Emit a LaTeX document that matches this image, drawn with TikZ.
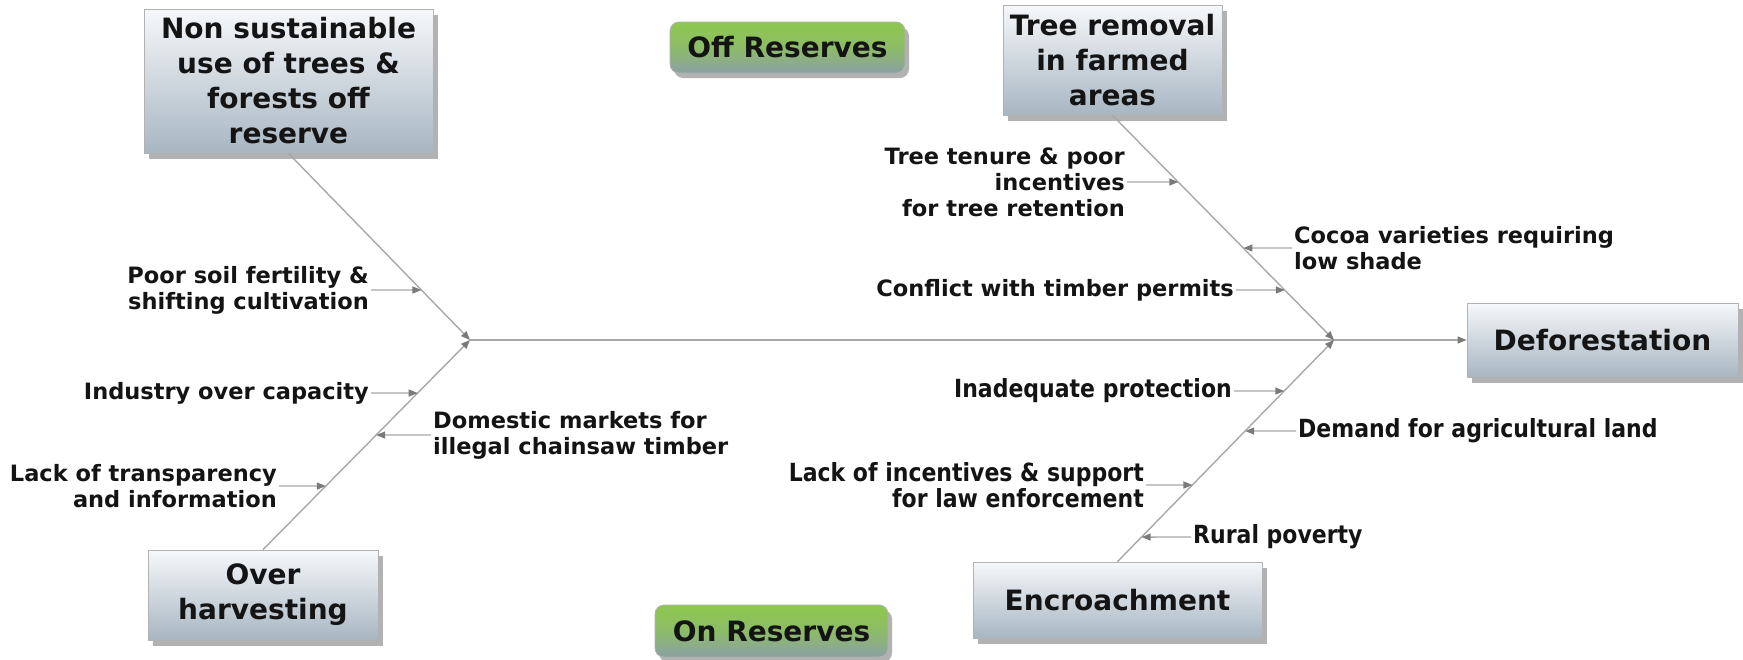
\documentclass[tikz,border=0pt]{standalone}
\usepackage{fontspec}
\setmainfont{DejaVu Sans}
\newfontfamily\cond{DejaVu Sans}[FakeStretch=0.88]
\usetikzlibrary{arrows.meta,shadows,calc}
\definecolor{boxtop}{HTML}{F6F8FA}
\definecolor{boxbot}{HTML}{A8B6C2}
\definecolor{grtop}{HTML}{8DC84E}
\definecolor{grbot}{HTML}{8BA0A4}
\definecolor{bonec}{HTML}{A8A8A8}
\definecolor{tipc}{HTML}{7A7A7A}
\definecolor{txt}{HTML}{141414}
\tikzset{
 causebox/.style={draw=gray!60, line width=0.8pt, top color=boxtop, bottom color=boxbot,
   drop shadow={shadow xshift=5pt, shadow yshift=-6pt, opacity=0.3, fill=black},
   align=center, text=txt, font=\bfseries\fontsize{28}{35}\selectfont, inner sep=0pt},
 groupbox/.style={draw=gray!60, line width=0.8pt, rounded corners=9pt, top color=grtop, bottom color=grbot,
   middle color=grtop!70!grbot,
   drop shadow={shadow xshift=4pt, shadow yshift=-5pt, opacity=0.3, fill=black},
   align=center, text=txt, font=\bfseries\fontsize{28}{33}\selectfont, inner sep=0pt},
 lbl/.style={text=txt, font=\bfseries\fontsize{22.5}{26}\selectfont, inner sep=2pt},
 clbl/.style={text=txt, font=\cond\bfseries\fontsize{25}{26}\selectfont, inner sep=2pt},
 bone/.style={draw=bonec, line width=1.4pt, -{Triangle[length=9pt,width=7pt,color=tipc]}},
}
\begin{document}
\begin{tikzpicture}[x=1pt,y=-1pt]
\useasboundingbox (0,0) rectangle (1743,659);
\fill[white] (0,0) rectangle (1743,659);

% main boxes
\node[causebox, minimum width=289pt, minimum height=144pt] (nsu) at (288.5,81) {Non sustainable\\use of trees \&\\forests off\\reserve};
\node[groupbox, minimum width=235pt, minimum height=51pt] (offres) at (787.5,47.5) {Off Reserves};
\node[causebox, minimum width=219pt, minimum height=110pt] (tree) at (1112.5,60) {Tree removal\\in farmed\\areas};
\node[causebox, minimum width=271pt, minimum height=74pt] (defo) at (1602.5,340) {Deforestation};
\node[causebox, minimum width=230pt, minimum height=90pt] (over) at (263,595) {Over\\harvesting};
\node[groupbox, minimum width=233pt, minimum height=52pt] (onres) at (771.5,631) {On Reserves};
\node[causebox, minimum width=289pt, minimum height=76pt] (enc) at (1117.5,600) {Encroachment};

% junctions
\coordinate (jl) at (470,340);
\coordinate (jr) at (1334,340);

% spine and bones
\draw[bone] (jl) -- (defo.west);
\draw[bone] (nsu.south) -- (jl);
\draw[bone] (over.north) -- (jl);
\draw[bone] (tree.south) -- (jr);
\draw[bone] (enc.north) -- (jr);

% left labels
\node[lbl, anchor=east, align=right] (poor) at (371,290) {Poor soil fertility \&\\shifting cultivation};
\node[lbl, anchor=east, align=right] (ind) at (371,393) {Industry over capacity};
\node[lbl, anchor=east, align=right] (lack) at (279,486) {Lack of transparency\\and information};
\node[lbl, anchor=west, align=left] (dom) at (431,435) {Domestic markets for\\illegal chainsaw timber};

% upper right labels
\node[lbl, anchor=east, align=right] (tenure) at (1127,182) {Tree tenure \& poor\\incentives\\for tree retention};
\node[lbl, anchor=east, align=right] (conflict) at (1236,290) {Conflict with timber permits};
\node[lbl, anchor=west, align=left] (cocoa) at (1292,248) {Cocoa varieties requiring\\low shade};

% lower right labels
\node[clbl, anchor=east, align=right] (inad) at (1234,391) {Inadequate protection};
\node[clbl, anchor=west, align=left] (demand) at (1296,431) {Demand for agricultural land};
\node[clbl, anchor=east, align=right] (lackinc) at (1146,485) {Lack of incentives \& support\\for law enforcement};
\node[clbl, anchor=west, align=left] (rural) at (1191,537) {Rural poverty};

% helper coordinates for horizontal arrows
\coordinate (poorR) at (poor.east -| jl);
\coordinate (indR) at (ind.east -| jl);
\coordinate (lackR) at (lack.east -| jl);
\coordinate (domL) at (dom.west -| over.north);
\coordinate (tenureR) at (tenure.east -| jr);
\coordinate (conflictR) at (conflict.east -| jr);
\coordinate (cocoaL) at (cocoa.west -| tree.south);
\coordinate (inadR) at (inad.east -| jr);
\coordinate (demandL) at (demand.west -| enc.north);
\coordinate (lackincR) at (lackinc.east -| jr);
\coordinate (ruralL) at (rural.west -| enc.north);

\draw[bone] (poor.east) -- (intersection of nsu.south--jl and poor.east--poorR);
\draw[bone] (ind.east) -- (intersection of over.north--jl and ind.east--indR);
\draw[bone] (lack.east) -- (intersection of over.north--jl and lack.east--lackR);
\draw[bone] (dom.west) -- (intersection of over.north--jl and dom.west--domL);
\draw[bone] (tenure.east) -- (intersection of tree.south--jr and tenure.east--tenureR);
\draw[bone] (conflict.east) -- (intersection of tree.south--jr and conflict.east--conflictR);
\draw[bone] (cocoa.west) -- (intersection of tree.south--jr and cocoa.west--cocoaL);
\draw[bone] (inad.east) -- (intersection of enc.north--jr and inad.east--inadR);
\draw[bone] (demand.west) -- (intersection of enc.north--jr and demand.west--demandL);
\draw[bone] (lackinc.east) -- (intersection of enc.north--jr and lackinc.east--lackincR);
\draw[bone] (rural.west) -- (intersection of enc.north--jr and rural.west--ruralL);
\end{tikzpicture}
\end{document}
